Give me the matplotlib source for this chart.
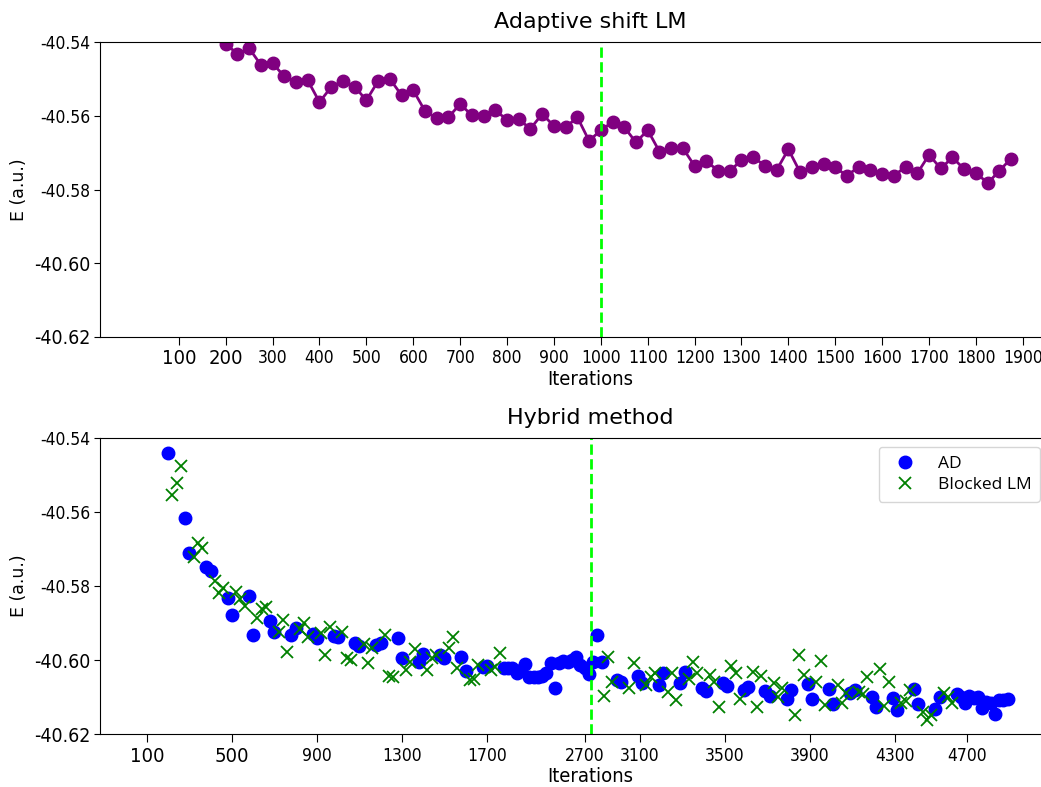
import matplotlib
matplotlib.use("Agg")
import matplotlib.pyplot as plt

# ---- data -------------------------------------------------------------
top_iter = list(range(200, 1876, 25))
top_e = [-40.5404, -40.5433, -40.5417, -40.5462, -40.5458, -40.5493, -40.5509, -40.5504, -40.5563, -40.5522,
         -40.5505, -40.5521, -40.5558, -40.5506, -40.5500, -40.5544, -40.5531, -40.5587, -40.5607, -40.5604,
         -40.5568, -40.5599, -40.5601, -40.5584, -40.5612, -40.5610, -40.5635, -40.5595, -40.5628, -40.5631,
         -40.5604, -40.5668, -40.5639, -40.5617, -40.5631, -40.5672, -40.5639, -40.5697, -40.5688, -40.5688,
         -40.5736, -40.5723, -40.5749, -40.5750, -40.5720, -40.5713, -40.5735, -40.5747, -40.5691, -40.5753,
         -40.5740, -40.5732, -40.5740, -40.5763, -40.5738, -40.5747, -40.5758, -40.5763, -40.5738, -40.5756,
         -40.5706, -40.5743, -40.5713, -40.5745, -40.5754, -40.5783, -40.5749, -40.5716]
top_switch = 1000
top_ticks = [100, 200, 300, 400, 500, 600, 700, 800, 900, 1000,
             1100, 1200, 1300, 1400, 1500, 1600, 1700, 1800, 1900]

ad_iter = [200, 280, 300, 380, 400, 480, 500, 580, 600, 680, 700, 780, 800, 880, 900, 980, 1000,
           1080, 1100, 1180, 1200, 1280, 1300, 1380, 1400, 1480, 1500, 1580, 1600, 1680, 1700,
           1780, 1800, 1820, 1840, 1860, 1880, 1900, 1920, 1940, 1960, 1980, 2000, 2020, 2040,
           2060, 2080, 2100, 2120, 2140, 2160, 2180, 2200, 2220, 2240,
           2310, 2330, 2410, 2430, 2510, 2530, 2610, 2630, 2710, 2730, 2810, 2830, 2910, 2930,
           3010, 3030, 3110, 3130, 3210, 3230, 3310, 3330, 3410, 3430, 3510, 3530, 3610, 3630,
           3710, 3730, 3810, 3830,
           3910, 3930, 3950, 3970, 3990, 4010, 4030, 4050, 4070, 4090, 4110, 4130, 4150]
ad_e = [-40.5440, -40.5616, -40.5710, -40.5748, -40.5759, -40.5833, -40.5878, -40.5826, -40.5932,
        -40.5894, -40.5924, -40.5932, -40.5913, -40.5930, -40.5941, -40.5935, -40.5939, -40.5953,
        -40.5962, -40.5959, -40.5955, -40.5941, -40.5995, -40.6005, -40.5984, -40.5986, -40.5995,
        -40.5993, -40.6030, -40.6018, -40.6015,
        -40.6021, -40.6022, -40.6022, -40.6036, -40.6027, -40.6011, -40.6045, -40.6047, -40.6046,
        -40.6043, -40.6036, -40.6007, -40.6076, -40.6009, -40.6002, -40.6005, -40.6000, -40.5991,
        -40.6014, -40.6022, -40.6038, -40.6005, -40.5932, -40.6005,
        -40.6054, -40.6059, -40.6043, -40.6061, -40.6068, -40.6036, -40.6063, -40.6032, -40.6076,
        -40.6083, -40.6061, -40.6070, -40.6081, -40.6072, -40.6084, -40.6097, -40.6106, -40.6081,
        -40.6065, -40.6106, -40.6078, -40.6120, -40.6090, -40.6081, -40.6099, -40.6128, -40.6102,
        -40.6135, -40.6078, -40.6120, -40.6133, -40.6101,
        -40.6092, -40.6100, -40.6117, -40.6097, -40.6103, -40.6101, -40.6131, -40.6113, -40.6116,
        -40.6147, -40.6108, -40.6107, -40.6105]

lm_iter = [220, 240, 260, 320, 340, 360, 420, 440, 460, 520, 540, 560, 620, 640, 660, 720, 740, 760,
           820, 840, 860, 920, 940, 960, 1020, 1040, 1060, 1120, 1140, 1160, 1220, 1240, 1260,
           1320, 1340, 1360, 1420, 1440, 1460, 1520, 1540, 1560, 1620, 1640, 1660, 1720, 1740, 1760,
           2250, 2270, 2290, 2370, 2390, 2450, 2470, 2490, 2550, 2570, 2590, 2650, 2670, 2690,
           2750, 2770, 2790, 2850, 2870, 2890, 2950, 2970, 2990, 3050, 3070, 3090, 3150, 3170, 3190,
           3250, 3270, 3290, 3350, 3370, 3390, 3450, 3470, 3490, 3550, 3570, 3590, 3650, 3670, 3690,
           3750, 3770, 3790, 3850, 3870, 3890]
lm_e = [-40.5554, -40.5521, -40.5476, -40.5722, -40.5683, -40.5698, -40.5786, -40.5820, -40.5805,
        -40.5815, -40.5835, -40.5854, -40.5887, -40.5863, -40.5856, -40.5925, -40.5892, -40.5978,
        -40.5917, -40.5899, -40.5939, -40.5926, -40.5986, -40.5912, -40.5924, -40.5995, -40.6000,
        -40.5957, -40.6009, -40.5968, -40.5932, -40.6043, -40.6047, -40.6027, -40.6005, -40.5971,
        -40.6027, -40.5995, -40.5986, -40.5968, -40.5937, -40.6022, -40.6054, -40.6052, -40.6014,
        -40.6027, -40.6018, -40.5980,
        -40.6097, -40.5991, -40.6059, -40.6076, -40.6007, -40.6068, -40.6045, -40.6036, -40.6086,
        -40.6034, -40.6108, -40.6052, -40.6005, -40.6036, -40.6041, -40.6059, -40.6126, -40.6016,
        -40.6036, -40.6104, -40.6032, -40.6126, -40.6043, -40.6063, -40.6101, -40.6076, -40.6149,
        -40.5986, -40.6041, -40.6059, -40.6002, -40.6122, -40.6068, -40.6115, -40.6090, -40.6086,
        -40.6092, -40.6045, -40.6025, -40.6124, -40.6059, -40.6117, -40.6110, -40.6081, -40.6140,
        -40.6162, -40.6149, -40.6088, -40.6099, -40.6115]
bot_switch = 2190
bot_tick_pos = [100, 500, 900, 1300, 1700, 2160, 2420, 2820, 3220, 3620, 3960]
bot_tick_lab = ["100", "500", "900", "1300", "1700", "2700", "3100", "3500", "3900", "4300", "4700"]

y_ticks = [-40.54, -40.56, -40.58, -40.60, -40.62]
y_labels = ["-40.54", "-40.56", "-40.58", "-40.60", "-40.62"]
big_y = {"-40.60", "-40.62"}


def style_axes(ax, title, ticks, labels, big_x, xlim):
    ax.set_xlim(*xlim)
    ax.set_ylim(-40.62, -40.54)
    ax.set_xticks(ticks)
    ax.set_xticklabels(labels)
    ax.set_yticks(y_ticks)
    ax.set_yticklabels(y_labels)
    for lab in ax.get_xticklabels():
        lab.set_fontstretch("condensed")
        lab.set_fontsize(14.5 if lab.get_text() in big_x else 12.5)
    for lab in ax.get_yticklabels():
        lab.set_fontstretch("condensed")
        lab.set_fontsize(14 if lab.get_text() in big_y else 12.5)
    ax.tick_params(axis="x", length=6, width=0.8, pad=3)
    ax.tick_params(axis="y", length=4, width=0.8, pad=3)
    ax.set_title(title, fontsize=16, pad=10)
    ax.set_xlabel("Iterations", fontsize=14.5, fontstretch="condensed", labelpad=1)
    ax.set_ylabel("E (a.u.)", fontsize=12.5, labelpad=4)


fig = plt.figure(figsize=(10.41, 7.87), dpi=100)
# both panels run on past the right edge of the figure, as in the original
ax1 = fig.add_axes([0.0961, 0.5718, 0.9414, 0.3748])
ax2 = fig.add_axes([0.0961, 0.0673, 0.9414, 0.3762])

ax1.plot(top_iter, top_e, "-o", color="purple", markersize=9, linewidth=2)
ax1.axvline(top_switch, color="#00ff00", linestyle="--", linewidth=2)
style_axes(ax1, "Adaptive shift LM", top_ticks, [str(t) for t in top_ticks],
           {"100", "200"}, (-68, 2022))

ax2.plot(ad_iter, ad_e, "o", color="blue", markersize=9, label="AD")
ax2.plot(lm_iter, lm_e, "x", color="green", markersize=9, markeredgewidth=1.3, label="Blocked LM")
ax2.axvline(bot_switch, color="#00ff00", linestyle="--", linewidth=2)
style_axes(ax2, "Hybrid method", bot_tick_pos, bot_tick_lab, {"100", "500"}, (-121, 4491))
ax2.legend(loc="upper right", bbox_to_anchor=(0.999, 0.432), bbox_transform=fig.transFigure,
           borderaxespad=0, prop={"family": "Open Sans", "size": 12.5},
           handletextpad=0.9, borderpad=0.5, labelspacing=0.3)

fig.savefig("out.png", dpi=100)
